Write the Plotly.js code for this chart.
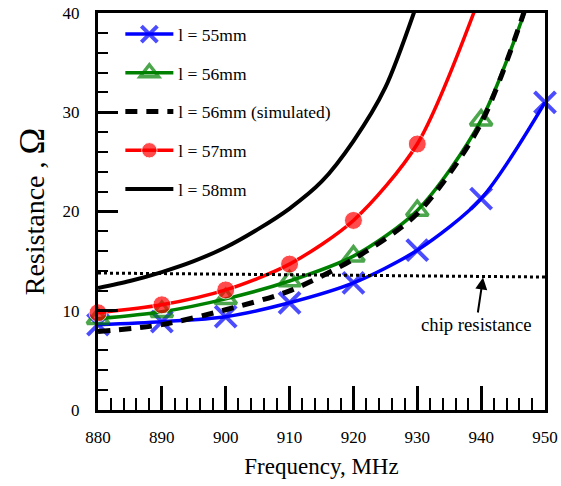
<!DOCTYPE html>
<html>
<head>
<meta charset="utf-8">
<script src="https://cdn.plot.ly/plotly-3.0.1.min.js"></script>
<style>html,body{margin:0;padding:0;background:#fff;}#chart{width:561px;height:486px;}</style>
</head>
<body>
<div id="chart"></div>
<script>
const freq = [880, 890, 900, 910, 920, 930, 940, 950];
const r55 = [8.6, 8.9, 9.4, 10.8, 12.8, 16.1, 21.3, 31.0];
const r56 = [9.2, 9.9, 11.2, 13.0, 15.5, 20.1, 29.2, 46];
const r56sim = [7.9, 8.6, 10.1, 12.0, 15.2, 19.8, 28.9, 46.5];
const r57 = [9.8, 10.6, 12.1, 14.7, 19.1, 26.8, 42];
const freq58 = [880, 885, 890, 895, 900, 905, 910, 915, 920, 925, 930];
const r58 = [12.3, 13.0, 13.9, 15.0, 16.4, 18.2, 20.3, 23.0, 27.1, 32.5, 41];
const chipFreq = [880, 950];
const chipR = [13.8, 13.4];
const names = ['l = 55mm', 'l = 56mm', 'l = 56mm (simulated)', 'l = 57mm', 'l = 58mm'];

const SERIF = 'Liberation Serif, Times New Roman, serif';
function sizes(ys, maxY, s) { return ys.map(v => v <= maxY ? s : 0); }

const traces = [
  {x: freq, y: r55, name: names[0], mode: 'lines+markers', legendgroup: 'a', cliponaxis: false,
   line: {color: '#0000ff', width: 3.5, shape: 'spline', smoothing: 0.8},
   marker: {symbol: 'x-thin-open', size: sizes(r55, 40, 21), color: '#0000ff', line: {color: '#0000ff', width: 4}}},
  {x: freq, y: r56, name: names[1], mode: 'lines+markers', legendgroup: 'b', cliponaxis: false,
   line: {color: '#008000', width: 3.5, shape: 'spline', smoothing: 0.8},
   marker: {symbol: 'triangle-up-open', size: sizes(r56, 40, 19), color: '#008000', line: {color: '#008000', width: 3.5}}},
  {x: freq, y: r56sim, name: names[2], mode: 'lines', legendgroup: 'c',
   line: {color: '#000000', width: 5, dash: '12px,9px', shape: 'spline', smoothing: 0.8}},
  {x: freq.slice(0, r57.length), y: r57, name: names[3], mode: 'lines+markers', legendgroup: 'd', cliponaxis: false,
   line: {color: '#ff0000', width: 3.5, shape: 'spline', smoothing: 0.8},
   marker: {symbol: 'circle', size: sizes(r57, 40, 18), color: '#ff0000'}},
  {x: freq58, y: r58, name: names[4], mode: 'lines', legendgroup: 'e',
   line: {color: '#000000', width: 4, shape: 'spline', smoothing: 0.8}},
  {x: chipFreq, y: chipR, name: 'chip resistance', mode: 'lines', showlegend: false,
   line: {color: '#000000', width: 3, dash: 'dot'}}
];

const layout = {
  width: 561, height: 486,
  margin: {l: 98, r: 16, t: 13, b: 76},
  paper_bgcolor: '#ffffff', plot_bgcolor: '#ffffff',
  font: {family: SERIF, color: '#000000', size: 17},
  showlegend: true,
  legend: {x: 0.05, y: 0.992, xanchor: 'left', yanchor: 'top', bgcolor: 'rgba(0,0,0,0)',
           font: {size: 17.5, family: SERIF, color: '#000'}, traceorder: 'grouped', tracegroupgap: 13, itemwidth: 48},
  xaxis: {
    range: [880, 950], tickmode: 'array', tickvals: [880, 890, 900, 910, 920, 930, 940, 950],
    ticks: 'inside', ticklen: 24, tickwidth: 3, tickcolor: '#000',
    minor: {dtick: 2, ticks: 'inside', ticklen: 12, tickwidth: 2, tickcolor: '#000'},
    showline: true, linecolor: '#000', linewidth: 3, mirror: true, showgrid: false, zeroline: false,
    ticklabelstandoff: 10,
    tickfont: {size: 17, family: SERIF, color: '#000'},
    title: {text: 'Frequency, MHz', font: {size: 23, family: SERIF, color: '#000'}, standoff: 12}
  },
  yaxis: {
    range: [0, 40], tickmode: 'array', tickvals: [0, 10, 20, 30, 40],
    ticks: 'inside', ticklen: 20, tickwidth: 3, tickcolor: '#000',
    minor: {dtick: 2, ticks: 'inside', ticklen: 10, tickwidth: 2, tickcolor: '#000'},
    showline: true, linecolor: '#000', linewidth: 3, mirror: true, showgrid: false, zeroline: false,
    ticklabelstandoff: 12,
    tickfont: {size: 17, family: SERIF, color: '#000'},
    title: {text: 'Resistance , <span style="font-size:36px">Ω</span>', font: {size: 28, family: SERIF, color: '#000'}, standoff: 10}
  },
  annotations: [{
    x: 940.3, y: 13.35, xref: 'x', yref: 'y', text: 'chip resistance',
    showarrow: true, arrowhead: 2, arrowsize: 1.2, arrowwidth: 2, arrowcolor: '#000',
    ax: -7, ay: 47, font: {size: 18.7, family: SERIF, color: '#000'}
  }]
};

Plotly.newPlot('chart', traces, layout, {displayModeBar: false, staticPlot: true});
</script>
</body>
</html>
